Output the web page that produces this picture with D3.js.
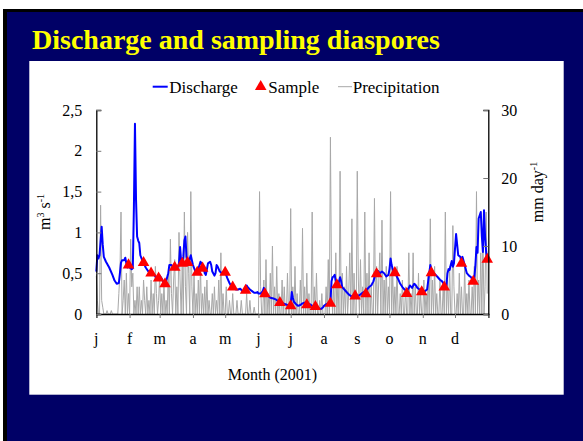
<!DOCTYPE html>
<html>
<head>
<meta charset="utf-8">
<script src="https://cdn.jsdelivr.net/npm/d3@7"></script>
<style>
  html, body { margin: 0; padding: 0; background: #ffffff; }
  svg { display: block; }
</style>
</head>
<body>
<svg id="chart" width="583" height="441"></svg>
<script>
// ---- data -------------------------------------------------------------
const monthLabels = ["j", "f", "m", "a", "m", "j", "j", "a", "s", "o", "n", "d"];
const monthStartDays = [0, 31, 59, 90, 120, 151, 181, 212, 243, 273, 304, 334];
const leftTicks = [0, 0.5, 1, 1.5, 2, 2.5];
const leftTickLabels = ["0", "0,5", "1", "1,5", "2", "2,5"];
const rightTicks = [0, 10, 20, 30];

// daily discharge, [day of year, m3/s]
const discharge = [
  [0,0.52],[1,0.72],[2,0.68],[3,0.72],[5,1.07],[6,0.85],[7,0.70],[9,0.64],[12,0.57],[15,0.48],[17,0.41],[19,0.37],[21,0.38],[22,0.50],[23,0.63],[24,0.66],[26,0.66],[27,0.69],[28,0.62],[29,0.57],[30,0.60],
  [31,0.57],[33,0.55],[34,0.56],[35,1.30],[36,2.33],[37,1.40],[38,0.95],[39,0.90],[40,0.87],[41,0.72],[43,0.65],[44,0.63],[46,0.57],[48,0.53],[50,0.50],[52,0.48],[54,0.48],[56,0.44],[58,0.45],
  [59,0.47],[61,0.43],[63,0.38],[64,0.37],[65,0.40],[67,0.50],[68,0.60],[70,0.60],[72,0.57],[74,0.55],[76,0.58],[77,0.62],[78,0.82],[79,0.65],[80,0.62],[81,0.70],[82,0.90],[83,0.95],[84,0.70],[85,0.63],[86,0.60],[87,0.68],[88,0.72],[89,0.66],
  [90,0.60],[92,0.53],[94,0.51],[95,0.55],[97,0.64],[98,0.62],[99,0.56],[100,0.55],[101,0.50],[102,0.48],[103,0.55],[104,0.62],[106,0.64],[107,0.60],[108,0.52],[110,0.47],[111,0.50],[112,0.60],[113,0.58],[115,0.52],[117,0.50],[119,0.50],
  [120,0.51],[122,0.44],[124,0.38],[126,0.33],[128,0.32],[130,0.30],[132,0.30],[134,0.31],[136,0.28],[138,0.29],[139,0.31],[140,0.35],[141,0.33],[143,0.30],[145,0.28],[147,0.26],[149,0.26],[150,0.27],
  [151,0.25],[153,0.25],[155,0.28],[156,0.32],[157,0.28],[158,0.25],[160,0.22],[162,0.20],[165,0.19],[167,0.18],[169,0.16],[170,0.17],[172,0.14],[174,0.13],[176,0.12],[178,0.11],[180,0.10],
  [181,0.12],[182,0.27],[183,0.20],[184,0.15],[186,0.12],[188,0.10],[190,0.11],[192,0.13],[194,0.14],[195,0.12],[197,0.14],[198,0.11],[199,0.12],[201,0.10],[203,0.09],[205,0.08],[207,0.07],[209,0.06],[211,0.08],
  [212,0.10],[214,0.12],[216,0.13],[218,0.14],[219,0.40],[220,0.45],[221,0.46],[222,0.48],[223,0.40],[224,0.36],[225,0.34],[226,0.40],[227,0.45],[228,0.40],[229,0.33],[231,0.30],[233,0.27],[235,0.24],[237,0.22],[239,0.21],[241,0.22],
  [243,0.22],[245,0.23],[247,0.25],[249,0.27],[250,0.25],[252,0.30],[254,0.33],[256,0.35],[258,0.40],[260,0.49],[262,0.53],[264,0.50],[266,0.52],[268,0.50],[270,0.46],[272,0.48],
  [273,0.55],[274,0.68],[275,0.60],[276,0.55],[277,0.50],[279,0.48],[281,0.43],[283,0.37],[285,0.33],[287,0.30],[289,0.28],[291,0.32],[292,0.35],[294,0.32],[296,0.37],[297,0.36],[299,0.32],[301,0.30],[303,0.27],
  [304,0.27],[306,0.28],[308,0.30],[310,0.50],[311,0.60],[312,0.55],[314,0.50],[316,0.48],[318,0.45],[320,0.42],[322,0.40],[324,0.36],[325,0.33],[326,0.35],[327,0.50],[328,0.55],[329,0.54],[330,0.60],[331,0.65],[332,0.58],[333,0.62],
  [334,0.80],[335,0.98],[336,0.85],[337,0.72],[339,0.70],[340,0.62],[341,0.70],[343,0.60],[345,0.50],[347,0.47],[349,0.45],[351,0.40],[352,0.45],[353,0.60],[354,0.82],[355,0.75],[356,1.17],[358,1.25],[359,0.95],[360,0.76],[361,1.27],[362,0.95],[363,0.76],[364,0.67]
];

// sampling dates, [day of year, discharge m3/s]
const samples = [
  [30,0.60],[44,0.63],[51,0.50],[58,0.44],[64,0.37],[73,0.57],[80,0.62],[85,0.63],[94,0.51],[99,0.56],
  [120,0.51],[127,0.33],[139,0.29],[157,0.245],[171,0.14],[181,0.10],[196,0.11],[204,0.09],[218,0.13],[224,0.355],
  [241,0.22],[251,0.245],[261,0.49],[278,0.505],[289,0.25],[303,0.27],[312,0.505],[324,0.33],[340,0.62],[351,0.40],[364,0.67]
];

// rainy days, [day of year, mm/day]; every other day was dry
const precipitation = [
  [0,5.6],[1,2],[4,16],[5,2],[6,1],[10,0.5],[14,0.5],[21,3],[22,6],[23,15],[25,2],[26,5],[28,6],[30,3],[32,11],[33,4],[34,6],
  [36,2],[38,4],[40,4],[42,2],[44,5],[45,2],[47,4],[49,2],[51,5],[53,3],[55,7],[56,3],[58,2],
  [59,5.5],[61,3],[63,4.5],[65,2],[67,6],[69,11],[70,3],[72,5],[73,8],[75,4],[77,12],[78,5],[80,7],[82,15],[83,4],[85,12],[86,6],[88,18],[89,4],
  [91,6],[93,3],[95,5],[97,7],[99,3],[101,4],[103,5],[105,2],[108,3],[110,4],[112,2],[114,5],[116,9],[118,3],
  [121,4],[124,2],[127,3],[131,2],[135,2],[140,3],[143,2],[147,1],
  [152,18],[153,4],[156,5],[158,8],[160,3],[162,6],[164,10],[166,4],[168,7],[170,3],[173,5],[175,4],[178,6],
  [181,15.5],[183,4],[185,7],[187,3],[190,5],[192,12.6],[194,4],[196,6],[198,3],[201,15],[203,4],[205,6],[208,2],[210,3],
  [214,4],[216,8],[218,26],[219,5],[221,4],[223,9],[225,5],[227,21],[229,6],[231,4],[233,7],[235,3],[236,9],[238,14],[240,6],
  [243,21],[244,5],[246,8],[248,4],[250,15],[252,6],[254,9],[256,4],[259,17],[261,7],[263,5],[264,9],[266,13.8],[268,5],[270,7],
  [272,4],[274,18],[276,6],[278,4],[280,7],[283,3],[285,5],[288,4],[291,9],[293,3],[295,9],[297,4],[300,6],[302,3],
  [305,5],[307,3],[309,6],[311,14],[313,5],[315,7],[317,3],[320,5],[323,4],[325,15],[327,5],[329,7],[332,13],[333,4],
  [336,3],[338,6],[340,4],[343,7],[345,3],[347,5],[350,4],[352,7],[354,18],[356,5],[358,9],[360,12],[362,4],[363,15],[364,3]
];

// ---- layout -----------------------------------------------------------
const svg = d3.select("#chart");
const plot = { left: 96.3, right: 488.3, top: 110, bottom: 314 };
const serif = "'Liberation Serif', 'Times New Roman', serif";

// slide frame: thin black edge, navy body, white chart panel
svg.append("rect").attr("x", 3).attr("y", 9).attr("width", 580).attr("height", 432).attr("fill", "#000000");
svg.append("rect").attr("x", 7).attr("y", 12).attr("width", 576).attr("height", 429).attr("fill", "#000066");
svg.append("text")
  .attr("x", 32).attr("y", 49)
  .attr("font-family", serif).attr("font-weight", "bold").attr("font-size", 28)
  .attr("fill", "#ffff00")
  .text("Discharge and sampling diaspores");
svg.append("rect").attr("x", 29.3).attr("y", 61).attr("width", 534.4).attr("height", 333.7).attr("fill", "#ffffff");

// ---- scales -----------------------------------------------------------
const x = d3.scaleLinear().domain([0, 365]).range([plot.left, plot.right]);
const yQ = d3.scaleLinear().domain([0, 2.5]).range([plot.bottom, plot.top]);
const yP = d3.scaleLinear().domain([0, 30]).range([plot.bottom, plot.top]);

// daily precipitation series, dry days as 0
const rainByDay = new Map(precipitation);
const precipDaily = d3.range(0, 365).map(d => [d, rainByDay.get(d) || 0]);

const g = svg.append("g");

g.append("path")
  .datum(precipDaily)
  .attr("fill", "none")
  .attr("stroke", "#a8a8a8")
  .attr("stroke-width", 1)
  .attr("d", d3.line().x(d => x(d[0])).y(d => yP(d[1])));

g.append("path")
  .datum(discharge)
  .attr("fill", "none")
  .attr("stroke", "#0000ff")
  .attr("stroke-width", 2)
  .attr("stroke-linejoin", "round")
  .attr("d", d3.line().x(d => x(d[0])).y(d => yQ(d[1])));

const tri = d3.symbol().type(d3.symbolTriangle).size(58);
g.selectAll("path.sample")
  .data(samples)
  .join("path")
  .attr("class", "sample")
  .attr("transform", d => `translate(${x(d[0])},${yQ(d[1])})`)
  .attr("d", tri)
  .attr("fill", "#ff0000");

// ---- axes -------------------------------------------------------------
const xAxis = d3.axisBottom(x)
  .tickValues(monthStartDays.concat([365]))
  .tickSize(4)
  .tickFormat(() => "");
const gx = svg.append("g").attr("transform", `translate(0,${plot.bottom})`).call(xAxis);
gx.select(".domain").attr("stroke", "#000").attr("stroke-width", 1.3);
gx.selectAll(".tick line").attr("stroke", "#777");

svg.append("g").selectAll("text")
  .data(monthStartDays)
  .join("text")
  .attr("x", d => x(d))
  .attr("y", 344)
  .attr("text-anchor", "middle")
  .attr("font-family", serif).attr("font-size", 16)
  .attr("fill", "#000")
  .text((d, i) => monthLabels[i]);

const yAxisL = d3.axisLeft(yQ)
  .tickValues(leftTicks)
  .tickSize(-5)
  .tickPadding(14)
  .tickFormat((d, i) => leftTickLabels[i]);
const gl = svg.append("g").attr("transform", `translate(${plot.left},0)`).call(yAxisL);
gl.select(".domain").attr("stroke", "#000").attr("stroke-width", 1.3);
gl.selectAll(".tick line").attr("stroke", "#777");
gl.selectAll(".tick text").attr("font-family", serif).attr("font-size", 16).attr("fill", "#000");

const yAxisR = d3.axisRight(yP)
  .tickValues(rightTicks)
  .tickSize(-5)
  .tickPadding(13)
  .tickFormat(d3.format("d"));
const gr = svg.append("g").attr("transform", `translate(${plot.right},0)`).call(yAxisR);
gr.select(".domain").attr("stroke", "#000").attr("stroke-width", 1.3);
gr.selectAll(".tick line").attr("stroke", "#777");
gr.selectAll(".tick text").attr("font-family", serif).attr("font-size", 16).attr("fill", "#000");

// axis titles
const tL = svg.append("text")
  .attr("transform", `translate(50,${(plot.top + plot.bottom) / 2}) rotate(-90)`)
  .attr("text-anchor", "middle")
  .attr("font-family", serif).attr("font-size", 16).attr("fill", "#000");
tL.append("tspan").text("m");
tL.append("tspan").attr("dy", -6).attr("font-size", 10).text("3");
tL.append("tspan").attr("dy", 6).text(" s");
tL.append("tspan").attr("dy", -6).attr("font-size", 10).text("-1");

const tR = svg.append("text")
  .attr("transform", `translate(543,192) rotate(-90)`)
  .attr("text-anchor", "middle")
  .attr("font-family", serif).attr("font-size", 16).attr("fill", "#000");
tR.append("tspan").text("mm day");
tR.append("tspan").attr("dy", -6).attr("font-size", 10).text("-1");

svg.append("text")
  .attr("x", 272.5).attr("y", 380)
  .attr("text-anchor", "middle")
  .attr("font-family", serif).attr("font-size", 16).attr("fill", "#000")
  .text("Month (2001)");

// ---- legend -----------------------------------------------------------
const lg = svg.append("g").attr("font-family", serif).attr("font-size", 17).attr("fill", "#000");
lg.append("line").attr("x1", 152.7).attr("x2", 167.7).attr("y1", 86.7).attr("y2", 86.7)
  .attr("stroke", "#0000ff").attr("stroke-width", 2);
lg.append("text").attr("x", 169.3).attr("y", 92.5).text("Discharge");
lg.append("path").attr("transform", "translate(260.7,86.7)").attr("d", tri).attr("fill", "#ff0000");
lg.append("text").attr("x", 268.3).attr("y", 92.5).text("Sample");
lg.append("line").attr("x1", 338).attr("x2", 352).attr("y1", 86.7).attr("y2", 86.7)
  .attr("stroke", "#a8a8a8").attr("stroke-width", 1);
lg.append("text").attr("x", 352.7).attr("y", 92.5).text("Precipitation");
</script>
</body>
</html>
